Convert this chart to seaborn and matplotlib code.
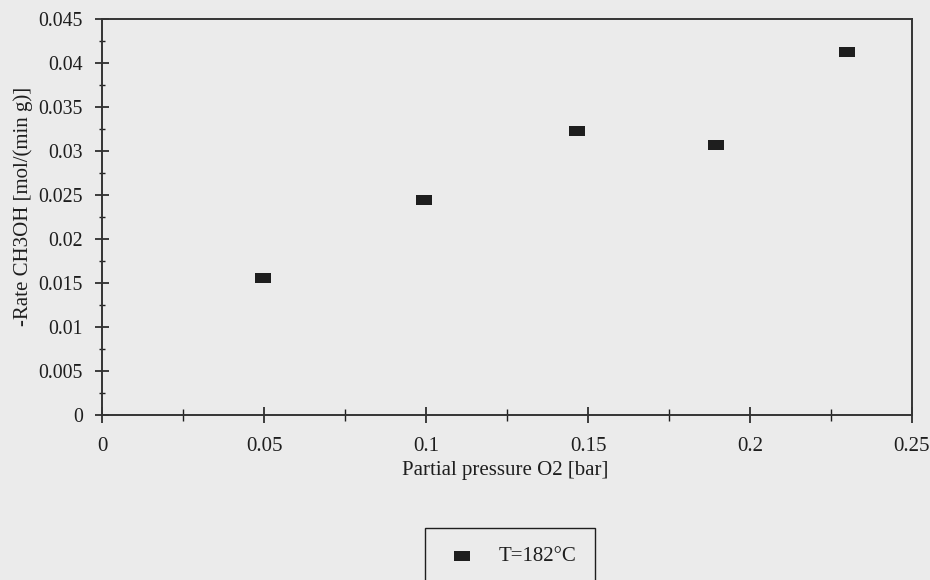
import matplotlib.pyplot as plt
import numpy as np
import pandas as pd
import seaborn as sns
from matplotlib.markers import MarkerStyle
from matplotlib.ticker import MultipleLocator

# values
pressure_o2 = [0.0497, 0.0993, 0.1467, 0.1895, 0.2300]
rate_ch3oh = [0.0156, 0.0244, 0.0322, 0.0306, 0.0412]
series_label = "T=182°C"

x_ticks = [0, 0.05, 0.1, 0.15, 0.2, 0.25]
x_tick_labels = ["0", "0.05", "0.1", "0.15", "0.2", "0.25"]
y_ticks = [0, 0.005, 0.01, 0.015, 0.02, 0.025, 0.03, 0.035, 0.04, 0.045]
y_tick_labels = ["0", "0.005", "0.01", "0.015", "0.02", "0.025", "0.03",
                 "0.035", "0.04", "0.045"]

bg = "#ebebeb"
ink = "#1e1e1e"
fs = 15

df = pd.DataFrame({"p": pressure_o2, "rate": rate_ch3oh})

sns.set_theme(style="ticks")
plt.rcParams['font.family'] = ['Liberation Serif', 'DejaVu Serif']
plt.rcParams['font.size'] = fs

fig = plt.figure(figsize=(9.3, 5.8), dpi=100, facecolor=bg)
ax = fig.add_axes([0.110, 0.2845, 0.8706, 0.6836])
ax.set_facecolor(bg)

# flat rectangular marker like the original
rect = MarkerStyle(np.array([[-1.6, -1.0], [1.6, -1.0], [1.6, 1.0],
                             [-1.6, 1.0], [-1.6, -1.0]]))
sns.scatterplot(data=df, x="p", y="rate", ax=ax, marker=rect, s=135,
                color=ink, edgecolor=ink, linewidth=0, label=series_label)

ax.set_xlim(0, 0.25)
ax.set_ylim(0, 0.045)
ax.set_xticks(x_ticks)
ax.set_xticklabels(x_tick_labels)
ax.set_yticks(y_ticks)
ax.set_yticklabels(y_tick_labels)
ax.xaxis.set_minor_locator(MultipleLocator(0.025))
ax.yaxis.set_minor_locator(MultipleLocator(0.0025))

ax.tick_params(axis='x', which='major', direction='inout', length=11,
               width=1.2, color=ink, labelcolor=ink, labelsize=fs, pad=10)
ax.tick_params(axis='x', which='minor', direction='inout', length=8,
               width=1.0, color=ink)
ax.tick_params(axis='y', which='major', direction='inout', length=10,
               width=1.2, color=ink, labelcolor=ink, labelsize=14.3, pad=9)
ax.tick_params(axis='y', which='minor', direction='inout', length=4,
               width=1.0, color=ink)

for side in ['left', 'right', 'top', 'bottom']:
    ax.spines[side].set_visible(True)
    ax.spines[side].set_color("#333333")
    ax.spines[side].set_linewidth(1.4)

ax.set_xlabel('Partial pressure O2 [bar]', fontsize=fs, color=ink)
ax.set_ylabel('-Rate CH3OH [mol/(min g)]', fontsize=fs, color=ink)
ax.xaxis.set_label_coords(0.497, -0.115)
ax.yaxis.set_label_coords(-0.086, 0.525)

leg = ax.legend(loc='upper left', bbox_to_anchor=(425 / 930, 1 - 528 / 580),
                bbox_transform=fig.transFigure, frameon=True, fancybox=False,
                fontsize=fs, borderpad=0.9, handlelength=1.76,
                handletextpad=0.85, borderaxespad=0)
leg.get_frame().set_edgecolor(ink)
leg.get_frame().set_facecolor(bg)
leg.get_frame().set_alpha(1)
leg.get_frame().set_linewidth(1.0)
for t in leg.get_texts():
    t.set_color(ink)

fig.savefig("out.png", dpi=100, facecolor=bg)
